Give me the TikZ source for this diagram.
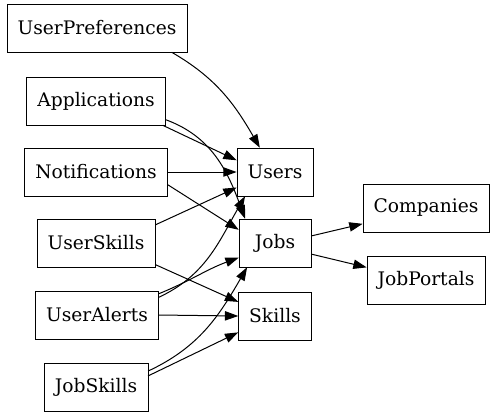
\documentclass[tikz,border=0pt]{standalone}
\usepackage{fontspec}
\setmainfont{DejaVu Serif}
\usetikzlibrary{arrows.meta}

\begin{document}
\begin{tikzpicture}[x=0.75pt,y=-0.75pt,
        tbl/.style={draw, rectangle, minimum height=36pt, minimum width=54pt, inner xsep=8pt, font=\fontsize{14}{17}\selectfont},
        edge/.style={-{Triangle[length=10pt,width=7pt]}, line width=0.75pt}]
        \path[fill=white, use as bounding box] (0,0) rectangle (495,419);

        \node[tbl] (up) at (97, 28) {UserPreferences};
        \node[tbl] (apps) at (96, 101) {Applications};
        \node[tbl] (notif) at (96, 172) {Notifications};
        \node[tbl] (uskills) at (96, 243) {UserSkills};
        \node[tbl] (ualerts) at (97, 315) {UserAlerts};
        \node[tbl] (jskills) at (96, 387) {JobSkills};
        \node[tbl] (users) at (275, 172) {Users};
        \node[tbl] (jobs) at (275, 243) {Jobs};
        \node[tbl] (skills) at (275, 316) {Skills};
        \node[tbl] (comp) at (426, 208) {Companies};
        \node[tbl] (portals) at (426, 280) {JobPortals};

        \draw[edge] (up.-18) to[out=-30, in=120] (users.122);
        \draw[edge] (apps.-20) to (users.163);
        \draw[edge] (apps.-15) to[out=-20, in=110] (jobs.141);
        \draw[edge] (notif.east) to (users.west);
        \draw[edge] (notif.-10) to (jobs.160);
        \draw[edge] (uskills.17) to (users.-158);
        \draw[edge] (uskills.-20) to (skills.159);
        \draw[edge] (ualerts.16) to[out=25, in=-120] (users.-141);
        \draw[edge] (ualerts.19) to[out=22, in=-160] (jobs.-158);
        \draw[edge] (ualerts.east) to (skills.west);
        \draw[edge] (jskills.17) to[out=25, in=-120] (jobs.-139);
        \draw[edge] (jskills.12) to (skills.-156);
        \draw[edge] (jobs.11) to (comp.-166);
        \draw[edge] (jobs.-17) to (portals.168);

    \end{tikzpicture}
\end{document}
